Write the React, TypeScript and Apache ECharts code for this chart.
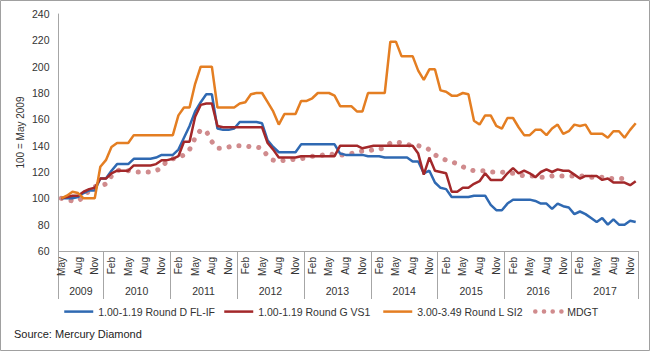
import React, { useEffect, useRef } from "react";
import * as echarts from "echarts";

const monthNames = ["Jan", "Feb", "Mar", "Apr", "May", "Jun", "Jul", "Aug", "Sep", "Oct", "Nov", "Dec"];
const years = ["2009", "2010", "2011", "2012", "2013", "2014", "2015", "2016", "2017"];
const firstMonthIndex = 4; // May 2009

const categories: string[] = [];
years.forEach((y, yi) => {
  for (let m = yi === 0 ? firstMonthIndex : 0; m < 12; m++) categories.push(monthNames[m] + " " + y);
});

const seriesNames = ["1.00-1.19 Round D FL-IF", "1.00-1.19 Round G VS1", "3.00-3.49 Round L SI2", "MDGT"];

const roundD = [
  100, 100, 100, 101, 104, 106, 106, 115, 115, 121,
  126, 126, 126, 130, 130, 130, 130, 131, 133, 133,
  133, 137, 146, 155, 166, 173, 179, 179, 153, 152,
  152, 153, 158, 158, 158, 158, 157, 144, 139, 135,
  135, 135, 135, 141, 141, 141, 141, 141, 141, 141,
  134, 133, 133, 133, 133, 132, 132, 132, 131, 131,
  131, 131, 131, 128, 128, 119, 121, 112, 108, 107,
  101, 101, 101, 101, 102, 102, 102, 95, 91, 91,
  96, 99, 99, 99, 99, 98, 96, 96, 92, 96,
  94, 93, 88, 90, 88, 85, 82, 85, 80, 84,
  80, 80, 83, 82,
];

const roundG = [
  100, 101, 102, 102, 105, 107, 108, 115, 115, 119,
  121, 121, 121, 125, 125, 125, 125, 126, 129, 129,
  130, 132, 143, 143, 162, 171, 172, 172, 155, 154,
  154, 154, 154, 154, 154, 154, 154, 142, 137, 131,
  131, 131, 131, 132, 132, 132, 132, 132, 132, 132,
  140, 140, 140, 140, 138, 139, 140, 140, 140, 140,
  140, 140, 140, 140, 134, 118, 131, 121, 120, 119,
  105, 105, 108, 108, 111, 113, 119, 114, 114, 114,
  119, 123, 119, 121, 119, 116, 120, 122, 120, 122,
  121, 121, 118, 115, 117, 117, 117, 114, 115, 112,
  112, 112, 110, 113,
];

const roundL = [
  100, 102, 105, 104, 100, 100, 100, 124, 129, 139,
  142, 142, 142, 148, 148, 148, 148, 148, 148, 148,
  148, 163, 169, 169, 187, 200, 200, 200, 169, 169,
  169, 169, 172, 173, 179, 180, 180, 173, 166, 156,
  164, 164, 164, 174, 174, 176, 180, 180, 180, 178,
  170, 170, 170, 166, 166, 180, 180, 180, 180, 219,
  219, 208, 208, 208, 197, 190, 198, 198, 182, 181,
  178, 178, 180, 179, 159, 156, 163, 163, 155, 153,
  161, 161, 154, 148, 148, 152, 152, 148, 153, 156,
  149, 151, 156, 155, 156, 149, 149, 149, 146, 151,
  151, 146, 152, 157,
];

const mdgt = [
  100, 99, 98, 98, 101, 106, 109, 109, 111, 117,
  121, 122, 121, 120, 120, 120, 120, 121, 123, 129,
  130, 131, 133, 137, 146, 152, 151, 143, 138, 138,
  139, 140, 140, 140, 139, 139, 138, 132, 129, 128,
  129, 129, 130, 130, 131, 132, 132, 133, 134, 133,
  133, 133, 134, 135, 136, 136, 137, 137, 139, 142,
  143, 142, 141, 140, 140, 139, 137, 133, 131, 129,
  128, 126, 124, 122, 121, 121, 121, 120, 120, 120,
  119, 119, 118, 117, 117, 117, 116, 116, 117, 117,
  117, 117, 117, 117, 117, 116, 116, 116, 115, 115,
  115, 115, null, null,
];

const yTicks = { min: 60, max: 240, interval: 20 };
const sourceText = "Source: Mercury Diamond";
const yAxisTitle = "100 = May 2009";

// year boundaries derived from the categories
const yearBounds: number[] = [0];
for (let i = 1; i < categories.length; i++) {
  if (categories[i].split(" ")[1] !== categories[i - 1].split(" ")[1]) yearBounds.push(i);
}
yearBounds.push(categories.length);
const yearCenters = years.map((_, i) => (yearBounds[i] + yearBounds[i + 1]) / 2);

const colors = ["#2F69B2", "#A3282A", "#E47E22", "#D08B8D"];
const font = "'Liberation Sans', Arial, sans-serif";
const textColor = "#333333";
const axisGrey = "#A6A6A6";

const lineStyleFor = (i: number) =>
  i === 3
    ? { color: colors[i], width: 5, type: [0.1, 9.9], cap: "round" }
    : { color: colors[i], width: 2.5 };

export default function App() {
  const ref = useRef<HTMLDivElement>(null);
  useEffect(() => {
    if (!ref.current) return;
    const chart = echarts.init(ref.current, undefined, { renderer: "svg" });
    const seriesData = [roundD, roundG, roundL, mdgt];
    const legendLefts = [63, 223, 382, 531];
    chart.setOption({
      animation: false,
      backgroundColor: "#ffffff",
      textStyle: { fontFamily: font },
      grid: { left: 58.5, right: 11.5, top: 14, bottom: 100, containLabel: false },
      legend: seriesNames.map((n, i) => ({
        data: [n],
        left: legendLefts[i],
        top: 306,
        itemWidth: 29,
        itemHeight: 14,
        padding: 0,
        itemStyle: { opacity: 0 },
        lineStyle:
          i === 3
            ? { color: colors[i], width: 4.5, type: [0.1, 8.6], cap: "round", dashOffset: -2 }
            : { color: colors[i], width: 2.5 },
        textStyle: { fontFamily: font, fontSize: 10.5, color: textColor },
      })),
      xAxis: [
        {
          type: "category",
          data: categories,
          boundaryGap: true,
          axisLine: { show: true, lineStyle: { color: axisGrey, width: 1 } },
          axisTick: { show: false },
          axisLabel: {
            interval: 2,
            rotate: 90,
            margin: 6,
            fontSize: 10,
            color: textColor,
            fontFamily: font,
            formatter: (v: string) => v.split(" ")[0],
          },
          splitLine: { show: false },
        },
        {
          type: "value",
          min: 0,
          max: categories.length,
          position: "bottom",
          axisLine: { show: false },
          splitLine: { show: false },
          axisTick: {
            show: true,
            customValues: yearBounds,
            length: 48,
            lineStyle: { color: axisGrey, width: 1 },
          },
          axisLabel: {
            show: true,
            customValues: yearCenters,
            margin: 34,
            fontSize: 10.5,
            color: textColor,
            fontFamily: font,
            formatter: (v: number) => {
              const k = yearCenters.findIndex((c) => Math.abs(c - v) < 0.01);
              return k >= 0 ? years[k] : "";
            },
          },
        },
      ],
      yAxis: {
        type: "value",
        min: yTicks.min,
        max: yTicks.max,
        interval: yTicks.interval,
        name: yAxisTitle,
        nameLocation: "middle",
        nameRotate: 90,
        nameGap: 33,
        nameMoveOverlap: false,
        nameTextStyle: { fontSize: 10, color: textColor, fontFamily: font },
        axisLine: { show: true, lineStyle: { color: axisGrey, width: 1 } },
        axisTick: { show: false },
        splitLine: { show: false },
        axisLabel: { fontSize: 10.5, color: textColor, margin: 9, fontFamily: font },
      },
      series: seriesNames.map((n, i) => ({
        name: n,
        type: "line",
        xAxisIndex: 0,
        data: seriesData[i],
        symbol: "none",
        showSymbol: false,
        z: i === 3 ? 1 : 2 + i,
        itemStyle: { color: colors[i] },
        lineStyle: lineStyleFor(i),
      })),
      graphic: [
        {
          type: "rect",
          shape: { x: 0.5, y: 0.5, width: 649, height: 350 },
          style: { fill: "none", stroke: "#A0A0A0", lineWidth: 1 },
          silent: true,
        },
        {
          type: "text",
          left: 14,
          top: 328,
          style: { text: sourceText, fontSize: 11, fill: "#222222", fontFamily: font },
        },
      ],
    });
    return () => chart.dispose();
  }, []);
  return (
    <div
      ref={ref}
      style={{ position: "fixed", left: 0, top: 0, width: 650, height: 351, background: "#fff" }}
    />
  );
}
